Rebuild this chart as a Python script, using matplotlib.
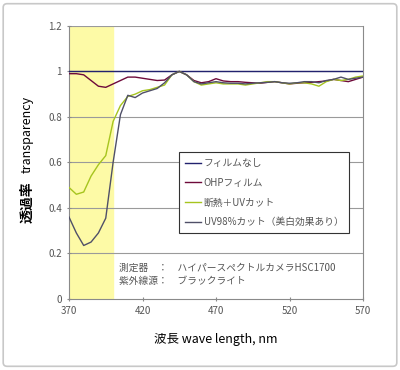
import numpy as np
import matplotlib
matplotlib.use("Agg")
import matplotlib.pyplot as plt
from matplotlib.patches import FancyBboxPatch

plt.rcParams['font.family'] = ['Noto Sans CJK JP', 'DejaVu Sans']

# ── Data ──────────────────────────────────────────────────────────────────────
wavelength = list(range(370, 575, 5))

no_film = [1.0] * len(wavelength)

ohp_film = [0.99, 0.99, 0.985, 0.96, 0.935, 0.93, 0.945, 0.96, 0.975, 0.975,
            0.97, 0.965, 0.96, 0.962, 0.985, 1.0, 0.985, 0.96, 0.95, 0.955,
            0.968, 0.958, 0.955, 0.955, 0.952, 0.95, 0.948, 0.952, 0.955, 0.95,
            0.945, 0.948, 0.95, 0.952, 0.955, 0.958, 0.965, 0.96, 0.955, 0.965,
            0.975]

heat_uv_cut = [0.49, 0.46, 0.47, 0.54, 0.59, 0.63, 0.78, 0.85, 0.89, 0.90,
               0.915, 0.92, 0.93, 0.94, 0.985, 1.0, 0.985, 0.955, 0.94, 0.945,
               0.95, 0.945, 0.945, 0.945, 0.94, 0.945, 0.95, 0.955, 0.955, 0.95,
               0.945, 0.95, 0.95, 0.945, 0.935, 0.955, 0.965, 0.96, 0.965, 0.975,
               0.98]

uv98_cut = [0.36, 0.29, 0.235, 0.25, 0.29, 0.355, 0.60, 0.81, 0.895, 0.885,
            0.905, 0.915, 0.925, 0.95, 0.985, 1.0, 0.985, 0.955, 0.945, 0.95,
            0.955, 0.95, 0.948, 0.948, 0.945, 0.948, 0.95, 0.952, 0.955, 0.95,
            0.948, 0.95, 0.955, 0.955, 0.95, 0.96, 0.965, 0.975, 0.965, 0.97,
            0.975]

labels = ["フィルムなし", "OHPフィルム", "断熱＋UVカット", "UV98%カット（美白効果あり）"]
x_ticks = [370, 420, 470, 520, 570]
y_ticks = [0, 0.2, 0.4, 0.6, 0.8, 1.0, 1.2]
y_tick_labels = ["0", "0.2", "0.4", "0.6", "0.8", "1", "1.2"]

# ── Plot ──────────────────────────────────────────────────────────────────────
COLORS = ["#22226e", "#6e0a3a", "#a6c41e", "#505068"]

fig = plt.figure(figsize=(4.0, 3.7), dpi=100)
fig.patch.set_facecolor("white")
fig.patches.append(FancyBboxPatch((0.008, 0.01), 0.984, 0.98,
                                  boxstyle="round,pad=0,rounding_size=0.01",
                                  transform=fig.transFigure, fill=False,
                                  edgecolor="#c8c8c8", linewidth=1.2))

ax = fig.add_axes([0.1725, 0.192, 0.735, 0.738])
ax.axvspan(370, 400, color="#fdfaa6", zorder=0)
for y in y_ticks[1:]:
    ax.axhline(y, color="#9a9a9a", linewidth=0.8, zorder=1)

series = [no_film, ohp_film, heat_uv_cut, uv98_cut]
for vals, col, lab in zip(series, COLORS, labels):
    ax.plot(wavelength, vals, color=col, linewidth=1.0, label=lab, zorder=3)

ax.set_xlim(370, 570)
ax.set_ylim(0, 1.2)
ax.set_xticks(x_ticks)
ax.set_yticks(y_ticks)
ax.set_yticklabels(y_tick_labels)
ax.tick_params(labelsize=7, colors="#8a8a8a", labelcolor="#555555",
               length=3, width=0.8, direction="inout")
for side in ["left", "bottom", "right"]:
    ax.spines[side].set_color("#8a8a8a")
    ax.spines[side].set_linewidth(0.8)
ax.spines["top"].set_visible(False)

ax.set_xlabel("波長 wave length, nm", fontsize=9, labelpad=12)

# y label: bold kanji part and plain english part
fig.text(0.068, 1 - 202 / 370, "透過率", rotation=90, fontsize=10,
         fontweight="bold", ha="center", va="center")
fig.text(0.068, 1 - 134 / 370, "transparency", rotation=90, fontsize=9,
         ha="center", va="center")

leg = ax.legend(loc="upper right", bbox_to_anchor=(0.97, 0.555),
                fontsize=7, handlelength=1.6, handletextpad=0.3,
                labelspacing=1.0, borderpad=0.6, fancybox=False,
                framealpha=1.0, edgecolor="#333333")
leg.get_frame().set_linewidth(0.8)
for t in leg.get_texts():
    t.set_color("#555555")

ax.text(0.17, 0.09, "測定器　：　ハイパースペクトルカメラHSC1700\n紫外線源：　ブラックライト",
        transform=ax.transAxes, fontsize=7, color="#555555",
        linespacing=1.3, va="center", ha="left", zorder=4)

fig.savefig("out.png", dpi=100)
